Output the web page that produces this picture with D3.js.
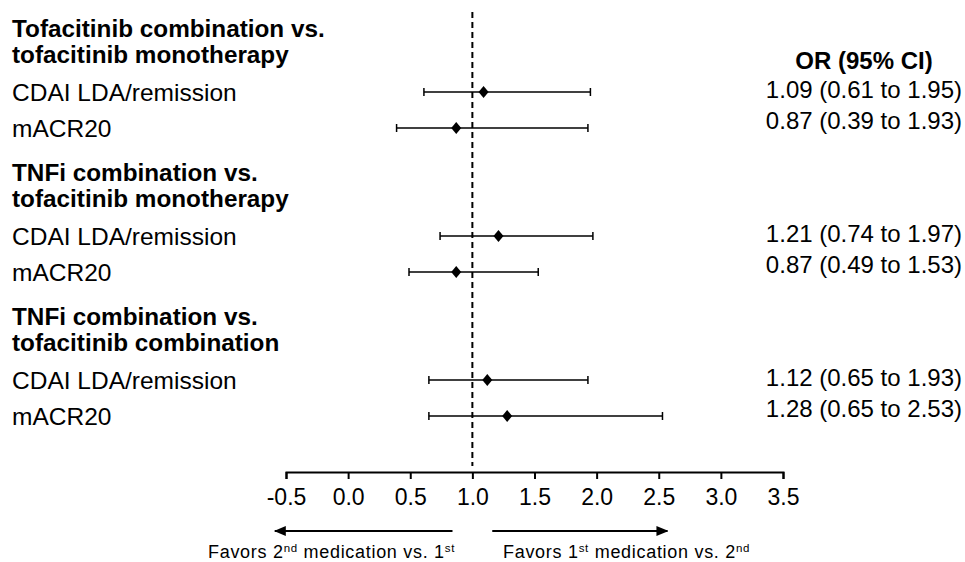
<!DOCTYPE html>
<html>
<head>
<meta charset="utf-8">
<title>Forest plot</title>
<script src="https://d3js.org/d3.v7.min.js"></script>
<style>
*{
	margin: 0;
	padding: 0;
}
body{
	background: #fff;
}
text{
	font-family: "Liberation Sans", Arial, sans-serif;
	fill: #000;
}
</style>
</head>
<body>
<script>

	var width = 965;
	var height = 562;

	// data
	var groups = [["Tofacitinib combination vs.", "tofacitinib monotherapy"],
				  ["TNFi combination vs.", "tofacitinib monotherapy"],
				  ["TNFi combination vs.", "tofacitinib combination"]];
	var outcomes = ["CDAI LDA/remission", "mACR20"];
	var orValue = [1.09, 0.87, 1.21, 0.87, 1.12, 1.28];
	var ciLow   = [0.61, 0.39, 0.74, 0.49, 0.65, 0.65];
	var ciHigh  = [1.95, 1.93, 1.97, 1.53, 1.93, 2.53];
	var tickValues = [-0.5, 0, 0.5, 1, 1.5, 2, 2.5, 3, 3.5];
	var tickLabels = ["-0.5", "0.0", "0.5", "1.0", "1.5", "2.0", "2.5", "3.0", "3.5"];

	var rows = orValue.map(function(v, i){
		return {g: Math.floor(i/2), r: i%2, label: outcomes[i%2], or: v, lo: ciLow[i], hi: ciHigh[i]};
	});

	var svg = d3.select("body")
				.append("svg")
				.attr("width", width)
				.attr("height", height);

	var x = d3.scaleLinear().domain([-0.5, 3.5]).range([286, 783]);
	// one unit = one row; each group takes 4 units (2 header lines + 2 rows)
	var y = d3.scaleLinear().domain([0, 1]).range([92, 128]);
	function rowY(d){ return y(d.g*4 + d.r); }

	// reference line at OR = 1
	svg.append("line")
		.attr("x1", x(1)).attr("x2", x(1))
		.attr("y1", 12).attr("y2", 466)
		.attr("stroke", "#000")
		.attr("stroke-width", 2)
		.attr("stroke-dasharray", "6,4");

	// group headers
	groups.forEach(function(lines, g){
		lines.forEach(function(t, k){
			svg.append("text")
				.attr("x", 12)
				.attr("y", y(g*4) - 55 + k*25.5)
				.attr("font-size", 24.3)
				.attr("font-weight", "bold")
				.text(t);
		});
	});

	// outcome labels
	svg.selectAll(".lbl").data(rows).enter().append("text")
		.attr("class", "lbl")
		.attr("x", 12)
		.attr("y", function(d){ return rowY(d) + 9; })
		.attr("font-size", 24.5)
		.text(function(d){ return d.label; });

	// CI bars
	var bar = svg.selectAll(".bar").data(rows).enter().append("g").attr("class", "bar");
	bar.append("line")
		.attr("x1", function(d){ return x(d.lo); })
		.attr("x2", function(d){ return x(d.hi); })
		.attr("y1", rowY).attr("y2", rowY)
		.attr("stroke", "#000").attr("stroke-width", 1.5);
	bar.selectAll(".cap").data(function(d){ return [{v: d.lo, y: rowY(d)}, {v: d.hi, y: rowY(d)}]; })
		.enter().append("line")
		.attr("x1", function(c){ return x(c.v); })
		.attr("x2", function(c){ return x(c.v); })
		.attr("y1", function(c){ return c.y - 4; })
		.attr("y2", function(c){ return c.y + 4; })
		.attr("stroke", "#000").attr("stroke-width", 1.5);
	bar.append("path")
		.attr("d", function(d){
			var cx = x(d.or), cy = rowY(d);
			return "M" + cx + "," + (cy-6) + "L" + (cx+5) + "," + cy + "L" + cx + "," + (cy+6) + "L" + (cx-5) + "," + cy + "Z";
		})
		.attr("fill", "#000");

	// OR column
	svg.append("text")
		.attr("x", 864)
		.attr("y", 69)
		.attr("text-anchor", "middle")
		.attr("font-size", 24)
		.attr("font-weight", "bold")
		.text("OR (95% CI)");

	var f = d3.format(".2f");
	svg.selectAll(".orv").data(rows).enter().append("text")
		.attr("class", "orv")
		.attr("x", 962)
		.attr("y", function(d){ return y(d.g*4) + 6 + d.r*30.5; })
		.attr("text-anchor", "end")
		.attr("font-size", 24)
		.text(function(d){ return f(d.or) + " (" + f(d.lo) + " to " + f(d.hi) + ")"; });

	// x axis
	var axis = d3.axisBottom(x)
		.tickValues(tickValues)
		.tickFormat(function(d, i){ return tickLabels[i]; })
		.tickSize(7)
		.tickSizeOuter(7)
		.tickPadding(10);
	var ax = svg.append("g")
		.attr("transform", "translate(0,472)")
		.call(axis);
	ax.select(".domain").attr("stroke", "#000").attr("stroke-width", 2);
	ax.selectAll(".tick line").attr("stroke", "#000").attr("stroke-width", 2);
	ax.selectAll(".tick text")
		.attr("font-family", "'Liberation Sans', Arial, sans-serif")
		.attr("font-size", 23)
		.attr("fill", "#000");

	// direction arrows
	var defs = svg.append("defs");
	defs.append("marker")
		.attr("id", "head")
		.attr("viewBox", "0 0 12 10")
		.attr("refX", 11).attr("refY", 5)
		.attr("markerWidth", 12).attr("markerHeight", 10)
		.attr("markerUnits", "userSpaceOnUse")
		.attr("orient", "auto")
		.append("path").attr("d", "M0,0L12,5L0,10Z").attr("fill", "#000");

	var arrows = [[0.84, -0.59], [1.16, 2.57]];
	svg.selectAll(".arr").data(arrows).enter().append("line")
		.attr("class", "arr")
		.attr("x1", function(d){ return x(d[0]); })
		.attr("x2", function(d){ return x(d[1]); })
		.attr("y1", 531).attr("y2", 531)
		.attr("stroke", "#000").attr("stroke-width", 2)
		.attr("marker-end", "url(#head)");

	// favors labels, with superscripts
	var favors = [{x: 208, parts: [["Favors 2", 0], ["nd", 1], [" medication vs. 1", 0], ["st", 1]]},
				  {x: 503, parts: [["Favors 1", 0], ["st", 1], [" medication vs. 2", 0], ["nd", 1]]}];
	favors.forEach(function(fv){
		var t = svg.append("text")
			.attr("x", fv.x)
			.attr("y", 558)
			.attr("font-size", 18)
			.attr("letter-spacing", 0.7);
		var shift = 0;
		fv.parts.forEach(function(p){
			var target = p[1] ? -6 : 0;
			t.append("tspan")
				.attr("dy", target - shift)
				.attr("font-size", p[1] ? 11.5 : 18)
				.text(p[0]);
			shift = target;
		});
	});

</script>
</body>
</html>
